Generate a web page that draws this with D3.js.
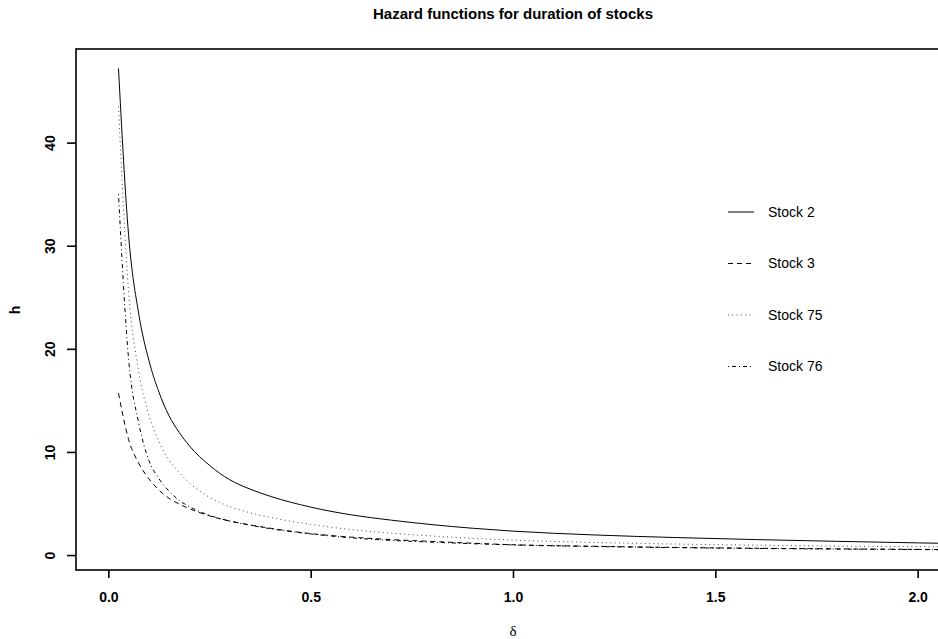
<!DOCTYPE html>
<html>
<head>
<meta charset="utf-8">
<script src="https://cdn.jsdelivr.net/npm/d3@7"></script>
<style>
  body { margin: 0; background: #fff; }
  svg { display: block; font-family: "Liberation Sans", Arial, sans-serif; }
</style>
</head>
<body>
<div id="chart"></div>
<script>
// values
const delta   = [0.025, 0.05, 0.075, 0.1, 0.125, 0.15, 0.175, 0.2, 0.25, 0.3, 0.35, 0.4, 0.5, 0.6, 0.7, 0.8, 0.9, 1.0, 1.2, 1.4, 1.6, 1.8, 2.0, 2.08];
const stock2  = [47.2, 31.0, 23.4, 18.9, 15.8, 13.5, 11.9, 10.6, 8.7, 7.3, 6.4, 5.7, 4.65, 3.9, 3.38, 2.95, 2.6, 2.32, 1.95, 1.7, 1.5, 1.33, 1.18, 1.13];
const stock3  = [15.7, 11.2, 8.9, 7.4, 6.3, 5.5, 4.95, 4.5, 3.8, 3.3, 2.92, 2.6, 2.08, 1.74, 1.5, 1.32, 1.15, 1.0, 0.85, 0.74, 0.66, 0.6, 0.55, 0.53];
const stock75 = [43.5, 25.5, 17.8, 13.6, 11.0, 9.2, 8.0, 7.0, 5.6, 4.7, 4.1, 3.65, 2.98, 2.47, 2.12, 1.85, 1.62, 1.45, 1.22, 1.07, 0.96, 0.87, 0.81, 0.79];
const stock76 = [35.0, 19.0, 12.8, 9.2, 7.4, 6.2, 5.3, 4.7, 3.85, 3.3, 2.9, 2.56, 2.05, 1.67, 1.42, 1.25, 1.1, 0.98, 0.83, 0.72, 0.64, 0.58, 0.53, 0.51];

const seriesNames = ["Stock 2", "Stock 3", "Stock 75", "Stock 76"];
const xTicks = [0, 0.5, 1, 1.5, 2];
const yTicks = [0, 10, 20, 30, 40];

const width = 938, height = 639;
const plot = { left: 76, right: 950, top: 49, bottom: 570 };

const svg = d3.select("#chart").append("svg")
    .attr("width", width)
    .attr("height", height);

const xScale = d3.scaleLinear()
    .domain([-0.08, 2.08])
    .range([plot.left, plot.right]);

const yScale = d3.scaleLinear()
    .domain([-1.45, 49.08])
    .range([plot.bottom, plot.top]);

// line styles like R's lty 1..4
const dashes = [null, "5,4", "1,3.3", "1,3,4,3"];
const colors = ["#000", "#000", "#444", "#000"];
const allSeries = [stock2, stock3, stock75, stock76];

svg.append("clipPath").attr("id", "clip")
  .append("rect")
    .attr("x", plot.left)
    .attr("y", plot.top)
    .attr("width", plot.right - plot.left)
    .attr("height", plot.bottom - plot.top);

const line = d3.line()
    .curve(d3.curveMonotoneX)
    .x(d => xScale(d[0]))
    .y(d => yScale(d[1]));

const g = svg.append("g").attr("clip-path", "url(#clip)");

allSeries.forEach(function(s, i) {
    g.append("path")
        .datum(delta.map((d, j) => [d, s[j]]))
        .attr("fill", "none")
        .attr("stroke", colors[i])
        .attr("stroke-width", 1)
        .attr("stroke-dasharray", dashes[i])
        .attr("d", line);
});

// box
svg.append("rect")
    .attr("x", plot.left)
    .attr("y", plot.top)
    .attr("width", plot.right - plot.left)
    .attr("height", plot.bottom - plot.top)
    .attr("fill", "none")
    .attr("stroke", "#000")
    .attr("stroke-width", 1.6);

// x axis
const xAxis = d3.axisBottom(xScale)
    .tickValues(xTicks)
    .tickFormat(d3.format(".1f"))
    .tickSize(8)
    .tickPadding(14);

svg.append("g")
    .attr("transform", "translate(0," + plot.bottom + ")")
    .call(xAxis)
    .call(a => a.select(".domain").remove())
    .call(a => a.selectAll("line").attr("stroke-width", 1.6))
    .call(a => a.selectAll("text")
        .attr("font-size", 14)
        .attr("font-weight", "bold")
        .attr("fill", "#000")
        .attr("font-family", "Liberation Sans, Arial, sans-serif"));

// y axis, labels parallel to the axis
const yAxis = d3.axisLeft(yScale)
    .tickValues(yTicks)
    .tickSize(9);

svg.append("g")
    .attr("transform", "translate(" + plot.left + ",0)")
    .call(yAxis)
    .call(a => a.select(".domain").remove())
    .call(a => a.selectAll("line").attr("stroke-width", 1.6))
    .call(a => a.selectAll("text")
        .attr("transform", "rotate(-90)")
        .attr("x", 0)
        .attr("y", -26)
        .attr("dy", "0.35em")
        .style("text-anchor", "middle")
        .attr("font-size", 14)
        .attr("font-weight", "bold")
        .attr("fill", "#000")
        .attr("font-family", "Liberation Sans, Arial, sans-serif"));

// title
svg.append("text")
    .attr("x", (plot.left + plot.right) / 2)
    .attr("y", 19)
    .style("text-anchor", "middle")
    .attr("font-size", 15)
    .attr("font-weight", "bold")
    .text("Hazard functions for duration of stocks");

// axis titles
svg.append("text")
    .attr("transform", "translate(20,310) rotate(-90)")
    .style("text-anchor", "middle")
    .attr("font-size", 14)
    .attr("font-weight", "bold")
    .text("h");

svg.append("text")
    .attr("x", xScale(1))
    .attr("y", 636)
    .style("text-anchor", "middle")
    .attr("font-size", 15)
    .attr("font-family", "Liberation Serif, DejaVu Serif, serif")
    .text("δ");

// legend
const legend = svg.append("g")
    .attr("class", "legend")
    .attr("transform", "translate(728,212)");

seriesNames.forEach(function(name, i) {
    const row = legend.append("g").attr("transform", "translate(0," + (i * 51.5) + ")");
    row.append("line")
        .attr("x1", 0).attr("x2", 26)
        .attr("y1", 0).attr("y2", 0)
        .attr("stroke", colors[i])
        .attr("stroke-width", 1)
        .attr("stroke-dasharray", dashes[i]);
    row.append("text")
        .attr("x", 40)
        .attr("y", 0)
        .attr("dy", "0.35em")
        .attr("font-size", 14)
        .text(name);
});
</script>
</body>
</html>
